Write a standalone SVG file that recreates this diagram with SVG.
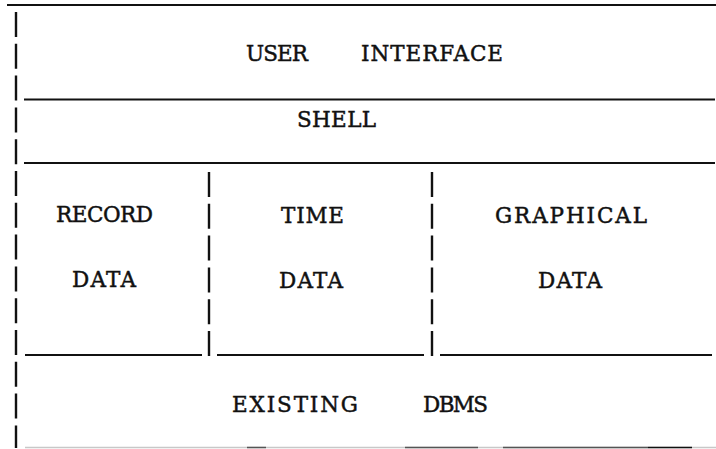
<svg xmlns="http://www.w3.org/2000/svg" width="716" height="449" viewBox="0 0 716 449">
  <style>
    .lbl { font-family: "DejaVu Serif", "Liberation Serif", serif; font-size: 21.5px; fill: #111; stroke: #111; stroke-width: 0.45px; }
    .rule { stroke: #111; stroke-width: 2; fill: none; }
    .bar { stroke: #111; stroke-width: 2.4; fill: none; stroke-dasharray: 25 6.8; }
  </style>
  <rect width="716" height="449" fill="#fff"/>

  <!-- layer borders -->
  <g id="borders">
    <line class="rule" x1="7" y1="5" x2="716" y2="5"/>
    <line class="rule" x1="24" y1="99.5" x2="715" y2="99.5"/>
    <line class="rule" x1="24" y1="163" x2="715" y2="163"/>
    <line class="rule" x1="25" y1="355" x2="202" y2="355"/>
    <line class="rule" x1="217" y1="355" x2="424" y2="355"/>
    <line class="rule" x1="440" y1="355" x2="712" y2="355"/>
    <!-- faint lower edge -->
    <line x1="25" y1="447.5" x2="716" y2="447.5" stroke="#c8c8c8" stroke-width="1.5"/>
    <line x1="247" y1="447.5" x2="266" y2="447.5" stroke="#555" stroke-width="1.5"/>
    <line x1="405" y1="447.5" x2="478" y2="447.5" stroke="#555" stroke-width="1.5"/>
    <line x1="503" y1="447.5" x2="648" y2="447.5" stroke="#555" stroke-width="1.5"/>
    <line x1="648" y1="447.5" x2="692" y2="447.5" stroke="#111" stroke-width="1.5"/>
    <!-- dashed verticals -->
    <line class="bar" x1="16" y1="12" x2="16" y2="448"/>
    <line class="bar" x1="209" y1="172" x2="209" y2="360"/>
    <line class="bar" x1="432" y1="172" x2="432" y2="360"/>
  </g>

  <g id="user-interface">
    <text class="lbl" x="246" y="61" textLength="62" lengthAdjust="spacing">USER</text>
    <text class="lbl" x="361" y="61" textLength="142" lengthAdjust="spacing">INTERFACE</text>
  </g>
  <g id="shell">
    <text class="lbl" x="297" y="127" textLength="79" lengthAdjust="spacing">SHELL</text>
  </g>
  <g id="record-data">
    <text class="lbl" x="56" y="222" textLength="97" lengthAdjust="spacing">RECORD</text>
    <text class="lbl" x="72" y="287" textLength="64" lengthAdjust="spacing">DATA</text>
  </g>
  <g id="time-data">
    <text class="lbl" x="281" y="223" textLength="63" lengthAdjust="spacing">TIME</text>
    <text class="lbl" x="279" y="288" textLength="64" lengthAdjust="spacing">DATA</text>
  </g>
  <g id="graphical-data">
    <text class="lbl" x="495" y="223" textLength="152" lengthAdjust="spacing">GRAPHICAL</text>
    <text class="lbl" x="538" y="288" textLength="64" lengthAdjust="spacing">DATA</text>
  </g>
  <g id="existing-dbms">
    <text class="lbl" x="232" y="412" textLength="126" lengthAdjust="spacing">EXISTING</text>
    <text class="lbl" x="423" y="412" textLength="65" lengthAdjust="spacing">DBMS</text>
  </g>
</svg>
